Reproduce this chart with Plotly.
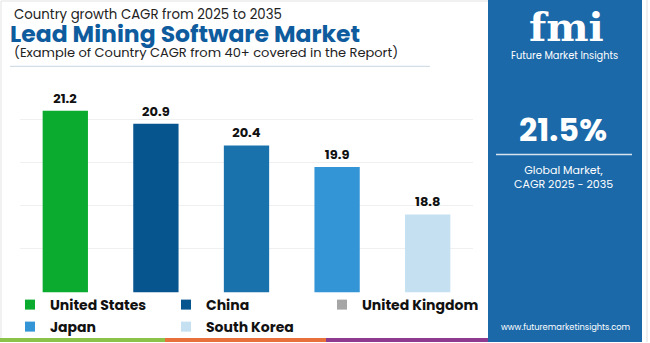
import plotly.graph_objects as go

W, H = 650, 343

countries = ["United States", "China", "United Kingdom", "Japan", "South Korea"]
cagr = [21.2, 20.9, 20.4, 19.9, 18.8]
bar_colors = ["#0aab2e", "#07558f", "#1a72ad", "#3394d6", "#c4e0f1"]
legend_colors = ["#0aab2e", "#07558f", "#a6a6a6", "#3394d6", "#c4e0f1"]
legend_rows = ["legend", "legend", "legend", "legend2", "legend2"]

FONT = "Poppins, Open Sans, sans-serif"


def px(x):
    return x / W


def py(y):
    return (H - y) / H


fig = go.Figure()

fig.add_trace(go.Bar(
    x=countries, y=cagr,
    marker=dict(color=bar_colors, line=dict(width=0)),
    width=0.5,
    text=cagr, texttemplate="%{y:.1f}", textposition="outside",
    textfont=dict(family=FONT, size=13, color="#111", weight="bold"),
    cliponaxis=False,
    showlegend=False,
    hoverinfo="skip",
))

for name, col, lg in zip(countries, legend_colors, legend_rows):
    fig.add_trace(go.Scatter(
        x=[None], y=[None], mode="markers", name=name,
        marker=dict(symbol="square", size=10, color=col),
        showlegend=True, legend=lg,
    ))

shapes = []
# left frame
shapes.append(dict(type="rect", xref="paper", yref="paper",
                   x0=px(1), x1=px(489), y0=py(340), y1=py(1),
                   line=dict(color="#e3e3e3", width=1), fillcolor="rgba(0,0,0,0)", layer="below"))
# title underline
shapes.append(dict(type="line", xref="paper", yref="paper",
                   x0=px(10), x1=px(430), y0=py(66.5), y1=py(66.5),
                   line=dict(color="#c9d6e3", width=1)))
# right blue panel
shapes.append(dict(type="rect", xref="paper", yref="paper",
                   x0=px(488), x1=px(642), y0=0, y1=1,
                   line=dict(width=0), fillcolor="#1b69a9", layer="below"))
shapes.append(dict(type="line", xref="paper", yref="paper",
                   x0=px(647), x1=px(647), y0=0, y1=1,
                   line=dict(color="#e0e0e0", width=1)))
# divider in panel
shapes.append(dict(type="line", xref="paper", yref="paper",
                   x0=px(496), x1=px(632), y0=py(155), y1=py(155),
                   line=dict(color="#d6e4f0", width=1.5)))
# bottom stripes
for x0, x1, c in [(0, 165, "#8bc34a"), (165, 326, "#e8703a"), (326, 488, "#8e3a8e")]:
    shapes.append(dict(type="rect", xref="paper", yref="paper",
                       x0=px(x0), x1=px(x1), y0=0, y1=py(339),
                       line=dict(width=0), fillcolor=c))


def ann(text, x, y, size, color, family=FONT, xanchor="left"):
    return dict(text=text, x=px(x), y=py(y), xref="paper", yref="paper",
                xanchor=xanchor, yanchor="middle", showarrow=False,
                font=dict(family=family, size=size, color=color))


annotations = [
    ann("Country growth CAGR from 2025 to 2035", 12, 14.5, 13.3, "#222"),
    ann("<b>Lead Mining Software Market</b>", 8, 33.5, 23.5, "#0e5c9e"),
    ann("(Example of Country CAGR from 40+ covered in the Report)", 12, 53, 13, "#222"),
    ann("<b>fmi</b>", 566, 27, 40, "white", family="DejaVu Serif", xanchor="center"),
    ann("Future Market Insights", 564, 56, 9.8, "white", xanchor="center"),
    ann("<b>21.5%</b>", 563, 130, 32, "white", xanchor="center"),
    ann("Global Market,<br>CAGR 2025 - 2035", 563, 177.5, 11, "white", xanchor="center"),
    ann("www.futuremarketinsights.com", 565, 328, 8.3, "white", xanchor="center"),
]

legend_common = dict(orientation="h", xanchor="left", yanchor="middle",
                     entrywidth=111, entrywidthmode="pixels",
                     font=dict(family=FONT, size=14, color="#111", weight="bold"),
                     bgcolor="rgba(0,0,0,0)", itemclick=False, itemdoubleclick=False)

fig.update_layout(
    width=W, height=H,
    margin=dict(l=0, r=0, t=0, b=0),
    paper_bgcolor="white", plot_bgcolor="white",
    xaxis=dict(domain=[px(20), px(473)], showticklabels=False, showgrid=False,
               zeroline=False, showline=False, ticks="", fixedrange=True),
    yaxis=dict(domain=[py(293), py(80)], range=[17, 21.92], dtick=1, tick0=17,
               showticklabels=False, showgrid=True, gridcolor="#f0f0f0", gridwidth=1,
               zeroline=False, showline=False, ticks="", fixedrange=True),
    showlegend=True,
    legend=dict(x=px(10), y=py(305), **legend_common),
    legend2=dict(x=px(10), y=py(328), **legend_common),
    shapes=shapes,
    annotations=annotations,
    bargap=0.5,
)

fig.write_html("out.html")
